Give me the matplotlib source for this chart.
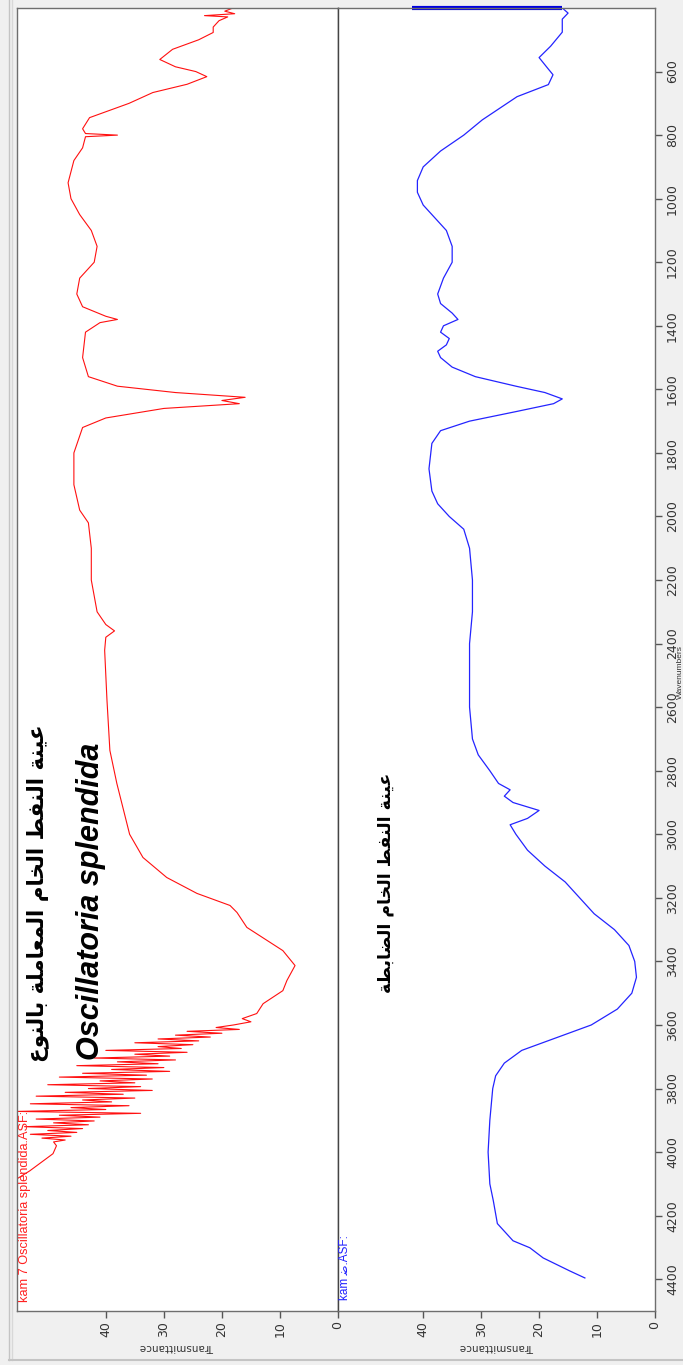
import matplotlib
matplotlib.use("Agg")
import matplotlib.pyplot as plt
from matplotlib.lines import Line2D

# ---------------- data ----------------
wn_ticks = list(range(600, 4401, 200))
t_ticks = [40, 30, 20, 10, 0]

red_wn = [400, 410, 418, 424, 428, 440, 460, 477, 500, 530, 562, 585, 600, 616, 640, 666, 700, 745,
          780, 795, 800, 805, 840, 880, 950, 1000, 1050, 1100, 1150, 1200, 1250, 1300, 1340, 1370,
          1380, 1390, 1420, 1500, 1560, 1590, 1610, 1625, 1635, 1645, 1660, 1690, 1720, 1800, 1900,
          1980, 2020, 2100, 2200, 2300, 2340, 2360, 2380, 2421, 2500, 2578, 2736, 2840, 2920, 3000,
          3073, 3136, 3186, 3224, 3246, 3293, 3366, 3413, 3460, 3492, 3533, 3564, 3580, 3590, 3600,
          3608, 3614, 3620, 3626, 3632, 3638, 3644, 3650, 3656, 3662, 3668, 3674, 3680, 3686, 3692,
          3698, 3704, 3710, 3716, 3722, 3728, 3734, 3740, 3746, 3752, 3758, 3764, 3770, 3776, 3782,
          3788, 3794, 3800, 3806, 3812, 3818, 3824, 3830, 3836, 3842, 3848, 3854, 3860, 3866, 3872,
          3878, 3884, 3890, 3896, 3902, 3908, 3914, 3920, 3926, 3932, 3938, 3944, 3950, 3956, 3962,
          3968, 3980, 4005, 4059, 4084, 4200, 4400]
red_t = [18.1, 19.5, 17.8, 23.0, 19.0, 20.5, 21.5, 21.5, 24.0, 28.5, 30.7, 28.0, 24.5, 22.6, 26.0, 31.9, 36.0, 42.8,
         44.0, 43.5, 38.0, 43.5, 44.0, 45.5, 46.5, 46.0, 44.5, 42.5, 41.5, 42.0, 44.5, 45.0, 44.0, 40.0,
         38.0, 41.0, 43.5, 44.0, 43.0, 38.0, 28.0, 16.0, 20.0, 17.0, 30.0, 40.0, 44.0, 45.5, 45.5,
         44.5, 43.0, 42.5, 42.5, 41.5, 40.0, 38.5, 40.0, 40.2, 40.0, 39.8, 39.3, 38.1, 37.0, 35.9,
         33.6, 29.5, 24.3, 18.6, 17.4, 15.7, 9.5, 7.4, 8.8, 9.5, 12.9, 14.0, 16.5, 15.0, 18.0,
         21.0, 17.0, 26.0, 20.0, 28.0, 22.0, 31.0, 24.0, 35.0, 25.0, 31.0, 27.0, 40.0, 26.0, 35.0,
         29.0, 42.0, 28.0, 38.0, 31.0, 45.0, 30.0, 39.0, 29.0, 44.0, 33.0, 48.0, 32.0, 41.0, 35.0,
         50.0, 34.0, 43.0, 32.0, 47.0, 37.0, 52.0, 35.0, 44.0, 39.0, 53.0, 36.0, 46.0, 40.0, 55.3,
         34.0, 48.0, 41.0, 52.0, 42.0, 49.0, 43.0, 54.0, 44.0, 50.0, 45.0, 53.0, 46.0, 51.0, 47.0,
         49.0, 48.5, 49.1, 53.1, 55.3, 55.3, 55.3]

blue_wn = [400, 400, 416, 435, 476, 520, 556, 590, 610, 641, 679, 752, 800, 850, 900, 943, 980, 1020,
           1060, 1100, 1150, 1200, 1250, 1300, 1330, 1360, 1380, 1400, 1420, 1440, 1460, 1480, 1500,
           1530, 1560, 1590, 1610, 1630, 1645, 1670, 1700, 1730, 1770, 1850, 1920, 1960, 2000, 2040,
           2100, 2200, 2300, 2400, 2500, 2600, 2700, 2750, 2800, 2840, 2860, 2880, 2900, 2925, 2950,
           2970, 3000, 3050, 3100, 3150, 3200, 3250, 3300, 3350, 3400, 3450, 3500, 3550, 3600, 3640,
           3680, 3720, 3760, 3800, 3900, 4000, 4100, 4153, 4225, 4279, 4301, 4333, 4374, 4396]
blue_t = [41.9, 16.0, 15.0, 16.0, 16.0, 18.0, 20.0, 18.5, 17.6, 18.4, 23.8, 29.8, 33.0, 37.0, 40.0, 41.0, 41.0, 40.0,
          38.0, 36.0, 35.0, 35.0, 36.5, 37.5, 37.0, 35.0, 34.0, 36.5, 37.0, 35.5, 36.0, 37.5, 37.0,
          35.0, 31.0, 24.0, 19.0, 16.0, 17.5, 24.0, 32.0, 37.0, 38.5, 39.0, 38.5, 37.5, 35.5, 33.0,
          32.0, 31.5, 31.5, 32.0, 32.0, 32.0, 31.5, 30.5, 28.5, 27.0, 25.0, 26.0, 24.5, 20.0, 22.0,
          25.0, 24.0, 22.0, 19.0, 15.5, 13.0, 10.5, 7.0, 4.5, 3.5, 3.2, 4.0, 6.5, 11.0, 17.0,
          23.0, 26.0, 27.5, 28.0, 28.5, 28.8, 28.5, 27.9, 27.2, 24.5, 21.6, 19.3, 14.7, 12.1]

# ---------------- Arabic (pre-shaped, visual order) ----------------
def vis(glyphs):
    return "".join(chr(g) for g in reversed(glyphs))

w_3ayna = [0xFECB, 0xFEF4, 0xFEE8, 0xFE94]
w_naft = [0xFE8D, 0xFEDF, 0xFEE8, 0xFED4, 0xFEC2]
w_kham = [0xFE8D, 0xFEDF, 0xFEA8, 0xFE8E, 0xFEE1]
w_mu3 = [0xFE8D, 0xFEDF, 0xFEE4, 0xFECC, 0xFE8E, 0xFEE3, 0xFEE0, 0xFE94]
w_naw3 = [0xFE91, 0xFE8E, 0xFEDF, 0xFEE8, 0xFEEE, 0xFEC9]
w_dab = [0xFE8D, 0xFEDF, 0xFEC0, 0xFE8E, 0xFE91, 0xFEC4, 0xFE94]
SP = [0x20]
txt_red = vis(w_3ayna + SP + w_naft + SP + w_kham + SP + w_mu3 + SP + w_naw3)
txt_blue = vis(w_3ayna + SP + w_naft + SP + w_kham + SP + w_dab)
label_red = "kam 7 Oscillatoria splendida.ASF:"
label_blue = "kam " + chr(0xFEBF) + ".ASF:"

# ---------------- figure ----------------
W, H = 683, 1365
fig = plt.figure(figsize=(W / 100, H / 100), dpi=100, facecolor="#f0f0f0")

top_px, bot_px = 8, 1311
yb = 1 - bot_px / H
hh = (bot_px - top_px) / H
axL = fig.add_axes([17 / W, yb, 321 / W, hh])
axR = fig.add_axes([338 / W, yb, 317 / W, hh])

for ax, xmax in ((axL, 55.3), (axR, 54.7)):
    ax.set_facecolor("white")
    ax.set_xlim(xmax, 0)
    ax.set_ylim(4500, 400)
    for s in ax.spines.values():
        s.set_color("#6e6e6e")
        s.set_linewidth(1.0)
    ax.set_xticks(t_ticks)
    ax.set_xticklabels([str(t) for t in t_ticks], rotation=90, fontsize=9,
                       color="#333333", family="Liberation Sans Narrow")
    ax.tick_params(axis="x", direction="out", length=5, width=1, color="#555555", pad=2)
    ax.set_xlabel("Transmittance", rotation=180, fontsize=7.5, color="#333333", labelpad=4)

axL.set_yticks([])
axL.spines["right"].set_color("#444444")
axR.spines["left"].set_color("#444444")
axR.yaxis.tick_right()
axR.set_yticks(wn_ticks)
axR.set_yticklabels([str(w) for w in wn_ticks], rotation=90, fontsize=9, color="#333333",
                    va="center", family="Liberation Sans Narrow")
axR.tick_params(axis="y", direction="out", length=5, width=1, color="#555555", pad=3)

axL.plot(red_t, red_wn, color="#ff1010", lw=0.8)
axR.plot(blue_t[1:], blue_wn[1:], color="#2424ff", lw=0.9)
axR.plot(blue_t[:2], blue_wn[:2], color="#0000e0", lw=3, clip_on=False, solid_capstyle="butt")

# text annotations (figure pixel coords)
def fx(x): return x / W
def fy(y): return 1 - y / H

fig.text(fx(38), fy(893), txt_red, rotation=90, ha="center", va="center", fontsize=15.5,
         fontweight="bold", family=["DejaVu Sans"], color="black")
fig.text(fx(91), fy(901), "Oscillatoria splendida", rotation=90, ha="center", va="center",
         fontsize=22, fontweight="bold", fontstyle="italic", family="Liberation Sans", color="black")
fig.text(fx(385), fy(883), txt_blue, rotation=90, ha="center", va="center", fontsize=12.5,
         fontweight="bold", family=["DejaVu Sans"], color="black")
fig.text(fx(25), fy(1302), label_red, rotation=90, ha="center",
         va="bottom", fontsize=9.2, color="#ff2020", family="Liberation Sans")
fig.text(fx(345), fy(1300), label_blue, rotation=90, ha="center",
         va="bottom", fontsize=8.5, color="#2020ff", family=["Liberation Sans", "DejaVu Sans"])
fig.text(fx(680), fy(672), "Wavenumbers", rotation=90, ha="center", va="center", fontsize=6,
         color="#333333", family="Liberation Sans")

# outer window decorations
fig.add_artist(Line2D([fx(9), fx(9)], [fy(0), fy(1360)], color="#c4c4c4", lw=1))
fig.add_artist(Line2D([fx(12), fx(12)], [fy(0), fy(1360)], color="#d8d8d8", lw=1))
fig.add_artist(Line2D([fx(9), fx(683)], [fy(1360), fy(1360)], color="#c4c4c4", lw=1.5))

fig.savefig("out.png", dpi=100, facecolor=fig.get_facecolor())
